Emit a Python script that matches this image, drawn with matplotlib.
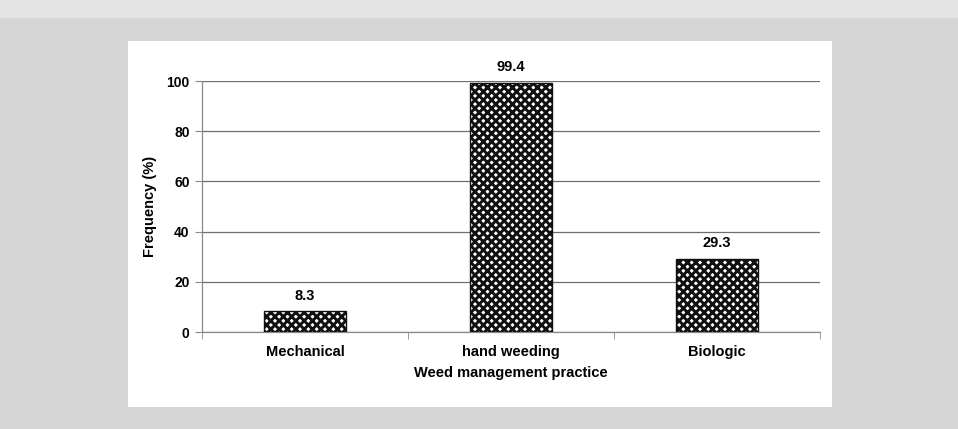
import matplotlib
matplotlib.use("Agg")
import matplotlib.pyplot as plt
from matplotlib.patches import Rectangle
import numpy as np

# 数据
practices = ["Mechanical", "hand weeding", "Biologic"]
frequency = [8.3, 99.4, 29.3]
y_ticks = [0, 20, 40, 60, 80, 100]

plt.rcParams['font.family'] = ['Liberation Sans', 'DejaVu Sans']
plt.rcParams['font.weight'] = 'bold'
plt.rcParams['hatch.linewidth'] = 2.1

fig = plt.figure(figsize=(9.58, 4.29), dpi=100)
fig.patch.set_facecolor('#d6d6d6')

# 扫描件的背景：顶部浅色条 + 白色图表区
fig.patches.append(Rectangle((0, 0.958), 1, 0.042, transform=fig.transFigure,
                             facecolor='#e4e4e4', edgecolor='none', zorder=-2))
fig.patches.append(Rectangle((0.1336, 0.0513), 0.7349, 0.853, transform=fig.transFigure,
                             facecolor='white', edgecolor='none', zorder=-2))

ax = fig.add_axes((0.2109, 0.226, 0.645, 0.585))
ax.set_facecolor('none')

x = np.arange(len(practices))
ax.bar(x, frequency, width=0.4, facecolor='white', edgecolor='#111111',
       hatch='xxxx', linewidth=1, zorder=3)

for xi, v in zip(x, frequency):
    ax.annotate(f"{v}", (xi, v), xytext=(0, 6), textcoords='offset points',
                ha='center', va='bottom', fontsize=10.5, fontweight='bold')

ax.set_xlim(-0.5, len(practices) - 0.5)
ax.set_ylim(0, 100)
ax.set_yticks(y_ticks)
ax.yaxis.grid(True, color='#6e6e6e', linewidth=0.9, zorder=0)
ax.set_axisbelow(True)

ax.set_xticks(x)
ax.set_xticklabels(practices, fontsize=10.5, fontweight='bold')
ax.set_xticks(np.arange(len(practices) + 1) - 0.5, minor=True)
ax.tick_params(axis='x', which='major', length=0, pad=9)
ax.tick_params(axis='x', which='minor', length=5, color='#8a8a8a', direction='out')
ax.tick_params(axis='y', length=5, color='#8a8a8a', labelsize=10, pad=4)

for s in ['top', 'right']:
    ax.spines[s].set_visible(False)
for s in ['left', 'bottom']:
    ax.spines[s].set_color('#8a8a8a')
    ax.spines[s].set_linewidth(0.9)

ax.set_xlabel("Weed management practice", fontsize=10.5, fontweight='bold')
ax.xaxis.set_label_coords(0.5, -0.135)
ax.set_ylabel("Frequency (%)", fontsize=10.5, fontweight='bold')
ax.yaxis.set_label_coords(-0.073, 0.5)

fig.savefig("out.png", dpi=100, facecolor=fig.get_facecolor())
